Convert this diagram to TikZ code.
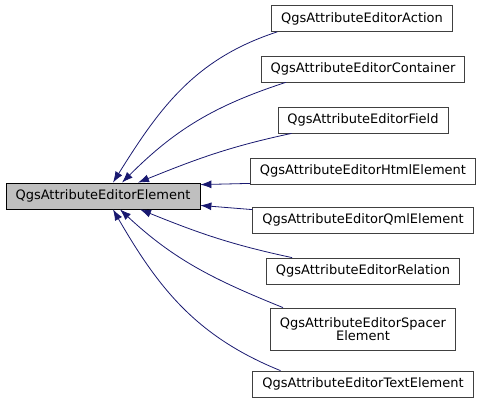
\documentclass[tikz,border=0pt]{standalone}
\usepackage{fontspec}
\setmainfont{DejaVu Sans}
\definecolor{edgeblue}{HTML}{191970}
\definecolor{basegray}{HTML}{BFBFBF}
\definecolor{boxline}{HTML}{404040}
\usetikzlibrary{arrows.meta}

\begin{document}
\begin{tikzpicture}[x=1pt, y=-1pt, >={Latex[length=11pt, width=8pt]},
    cls/.style={draw=boxline, fill=white, line width=0.8pt, font=\fontsize{13}{15}\selectfont,
      inner xsep=9.5pt, inner ysep=0pt, minimum height=26pt},
    edge/.style={->, draw=edgeblue, line width=0.8pt}]
  \useasboundingbox (0,0) rectangle (483,408);
  \node[cls, fill=basegray, draw=black] (BASE) at (103, 196) {QgsAttributeEditorElement};
  \node[cls] (ACT) at (362, 18.5) {QgsAttributeEditorAction};
  \node[cls] (CONT) at (363, 69) {QgsAttributeEditorContainer};
  \node[cls] (FIELD) at (363, 120) {QgsAttributeEditorField};
  \node[cls] (HTML) at (363, 171) {QgsAttributeEditorHtmlElement};
  \node[cls] (QML) at (363, 220) {QgsAttributeEditorQmlElement};
  \node[cls] (REL) at (363, 271) {QgsAttributeEditorRelation};
  \node[cls, minimum height=42pt, align=center] (SPACER) at (363, 329)
    {QgsAttributeEditorSpacer\\[-2pt]Element};
  \node[cls] (TEXT) at (363, 384) {QgsAttributeEditorTextElement};
  % Derived classes above the base
  \draw[edge] ([xshift=6pt]ACT.south west) to[out=198, in=58] ([xshift=10pt]BASE.north);
  \draw[edge] ([xshift=25pt]CONT.south west) to[out=198, in=45] ([xshift=19pt]BASE.north);
  \draw[edge] ([xshift=14pt]FIELD.south west) to[out=192, in=22] ([xshift=35pt]BASE.north);
  \draw[edge] ([yshift=1pt]HTML.south west) -- ([yshift=-2pt]BASE.north east);
  % Derived classes below the base
  \draw[edge] ([yshift=-3pt]QML.north west) -- ([yshift=4pt]BASE.south east);
  \draw[edge] ([xshift=26pt]REL.north west) to[out=168, in=-22] ([xshift=37pt]BASE.south);
  \draw[edge] ([xshift=13pt]SPACER.north west) to[out=158, in=-43] ([xshift=17pt]BASE.south);
  \draw[edge] ([xshift=28pt]TEXT.north west) to[out=158, in=-60] ([xshift=10pt]BASE.south);
\end{tikzpicture}
\end{document}
